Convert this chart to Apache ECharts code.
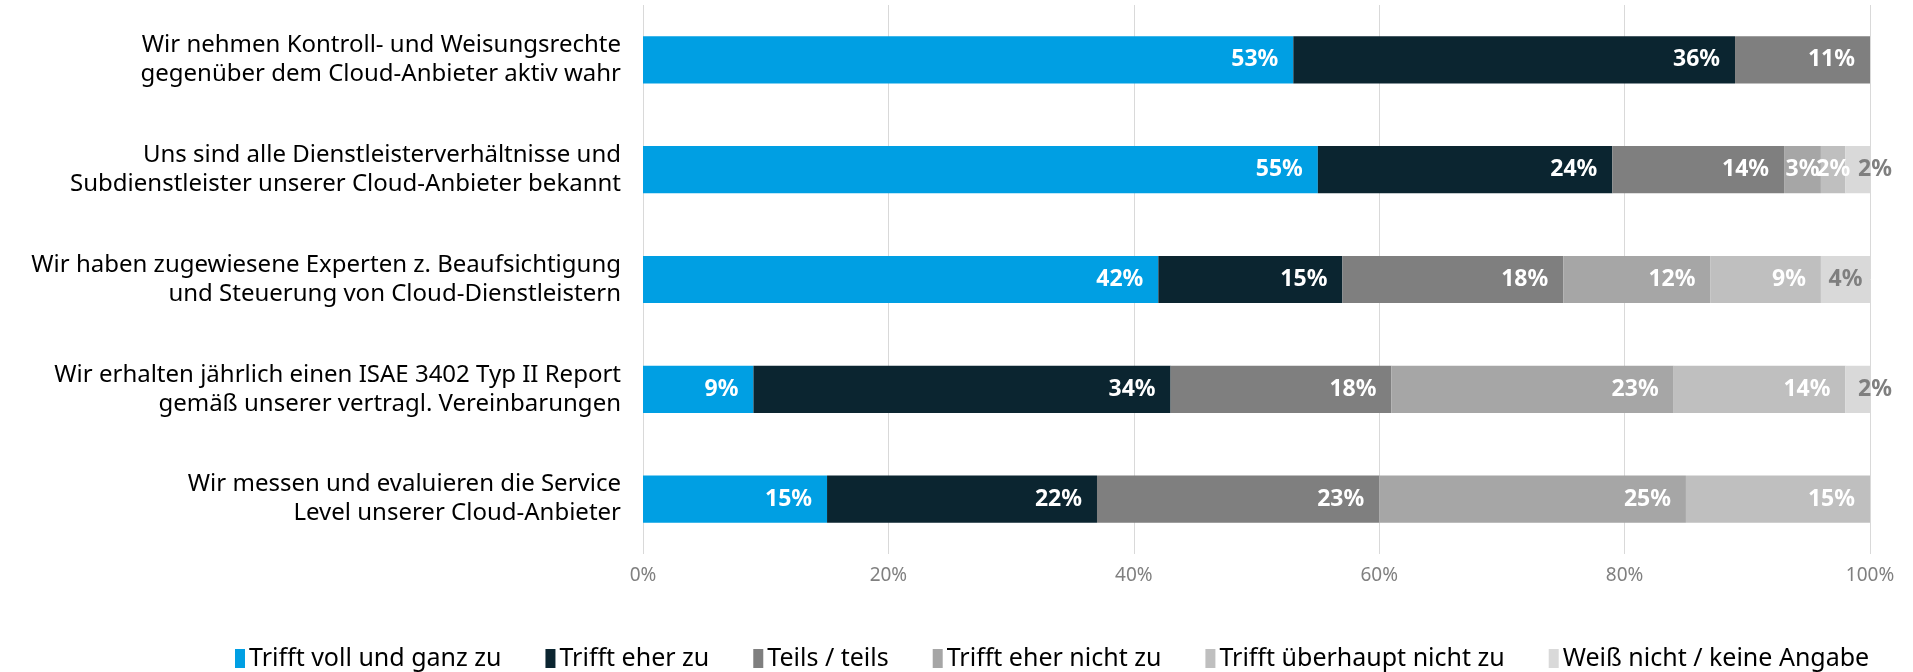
<!DOCTYPE html>
<html>
<head>
<meta charset="utf-8">
<script src="https://cdn.jsdelivr.net/npm/echarts@6/dist/echarts.min.js"></script>
<style>
  html, body { margin: 0; padding: 0; background: #fff; }
  #chart { width: 1913px; height: 672px; }
</style>
</head>
<body>
<div id="chart"></div>
<script>
// Aussagen (von oben nach unten)
const categories = [
  'Wir nehmen Kontroll- und Weisungsrechte\ngegenüber dem Cloud-Anbieter aktiv wahr',
  'Uns sind alle Dienstleisterverhältnisse und\nSubdienstleister unserer Cloud-Anbieter bekannt',
  'Wir haben zugewiesene Experten z. Beaufsichtigung\nund Steuerung von Cloud-Dienstleistern',
  'Wir erhalten jährlich einen ISAE 3402 Typ II Report\ngemäß unserer vertragl. Vereinbarungen',
  'Wir messen und evaluieren die Service\nLevel unserer Cloud-Anbieter'
];

const seriesNames = [
  'Trifft voll und ganz zu',
  'Trifft eher zu',
  'Teils / teils',
  'Trifft eher nicht zu',
  'Trifft überhaupt nicht zu',
  'Weiß nicht / keine Angabe'
];

const voll = [53, 55, 42, 9, 15];
const eher = [36, 24, 15, 34, 22];
const teils = [11, 14, 18, 18, 23];
const eherNicht = [0, 3, 12, 23, 25];
const ueberhauptNicht = [0, 2, 9, 14, 15];
const weissNicht = [0, 2, 4, 2, 0];

const colors = ['#009FE3', '#0B2530', '#7F7F7F', '#A6A6A6', '#BFBFBF', '#D9D9D9'];
const tickLabels = ['0%', '20%', '40%', '60%', '80%', '100%'];

const font = '"Noto Sans", "Open Sans", sans-serif';

const allValues = [voll, eher, teils, eherNicht, ueberhauptNicht, weissNicht];

const series = allValues.map((vals, i) => {
  const last = i === allValues.length - 1;
  return {
    name: seriesNames[i],
    type: 'bar',
    stack: 'total',
    barWidth: '43%',
    itemStyle: { color: colors[i] },
    label: {
      show: true,
      position: 'insideRight',
      distance: 15,
      color: last ? '#7F7F7F' : '#fff',
      fontFamily: font,
      fontWeight: 'bold',
      fontSize: 23,
      formatter: p => (p.value ? p.value + '%' : '')
    },
    data: vals.map(v => {
      // kleine Werte am Ende ragen über den Balken hinaus
      if (last && v > 0 && v < 3) {
        return { value: v, label: { position: 'right', distance: 0, offset: [-12, 0] } };
      }
      // schmale Segmente: Beschriftung mittig
      if (v > 0 && v < 5) {
        return { value: v, label: { position: 'inside' } };
      }
      return v;
    })
  };
});

const chart = echarts.init(document.getElementById('chart'));
chart.setOption({
  animation: false,
  color: colors,
  grid: { left: 643, right: 43, top: 5, bottom: 118, containLabel: false },
  legend: {
    bottom: -4,
    left: 230,
    itemWidth: 10,
    itemHeight: 19,
    itemGap: 44,
    icon: 'rect',
    textStyle: { fontFamily: font, fontSize: 25, color: '#000', padding: [0, 0, 0, -1] },
    data: seriesNames
  },
  xAxis: {
    type: 'value',
    min: 0,
    max: 100,
    interval: 20,
    axisLine: { show: false },
    axisTick: { show: false },
    splitLine: { show: true, lineStyle: { color: '#D9D9D9', width: 1 } },
    axisLabel: {
      margin: 12,
      color: '#808080',
      fontFamily: font,
      fontSize: 19,
      formatter: v => tickLabels[v / 20]
    }
  },
  yAxis: {
    type: 'category',
    inverse: true,
    data: categories,
    axisLine: { show: false },
    axisTick: { show: false },
    axisLabel: {
      margin: 22,
      color: '#000',
      fontFamily: font,
      fontSize: 24,
      lineHeight: 29,
      align: 'right'
    }
  },
  series: series
});
</script>
</body>
</html>
